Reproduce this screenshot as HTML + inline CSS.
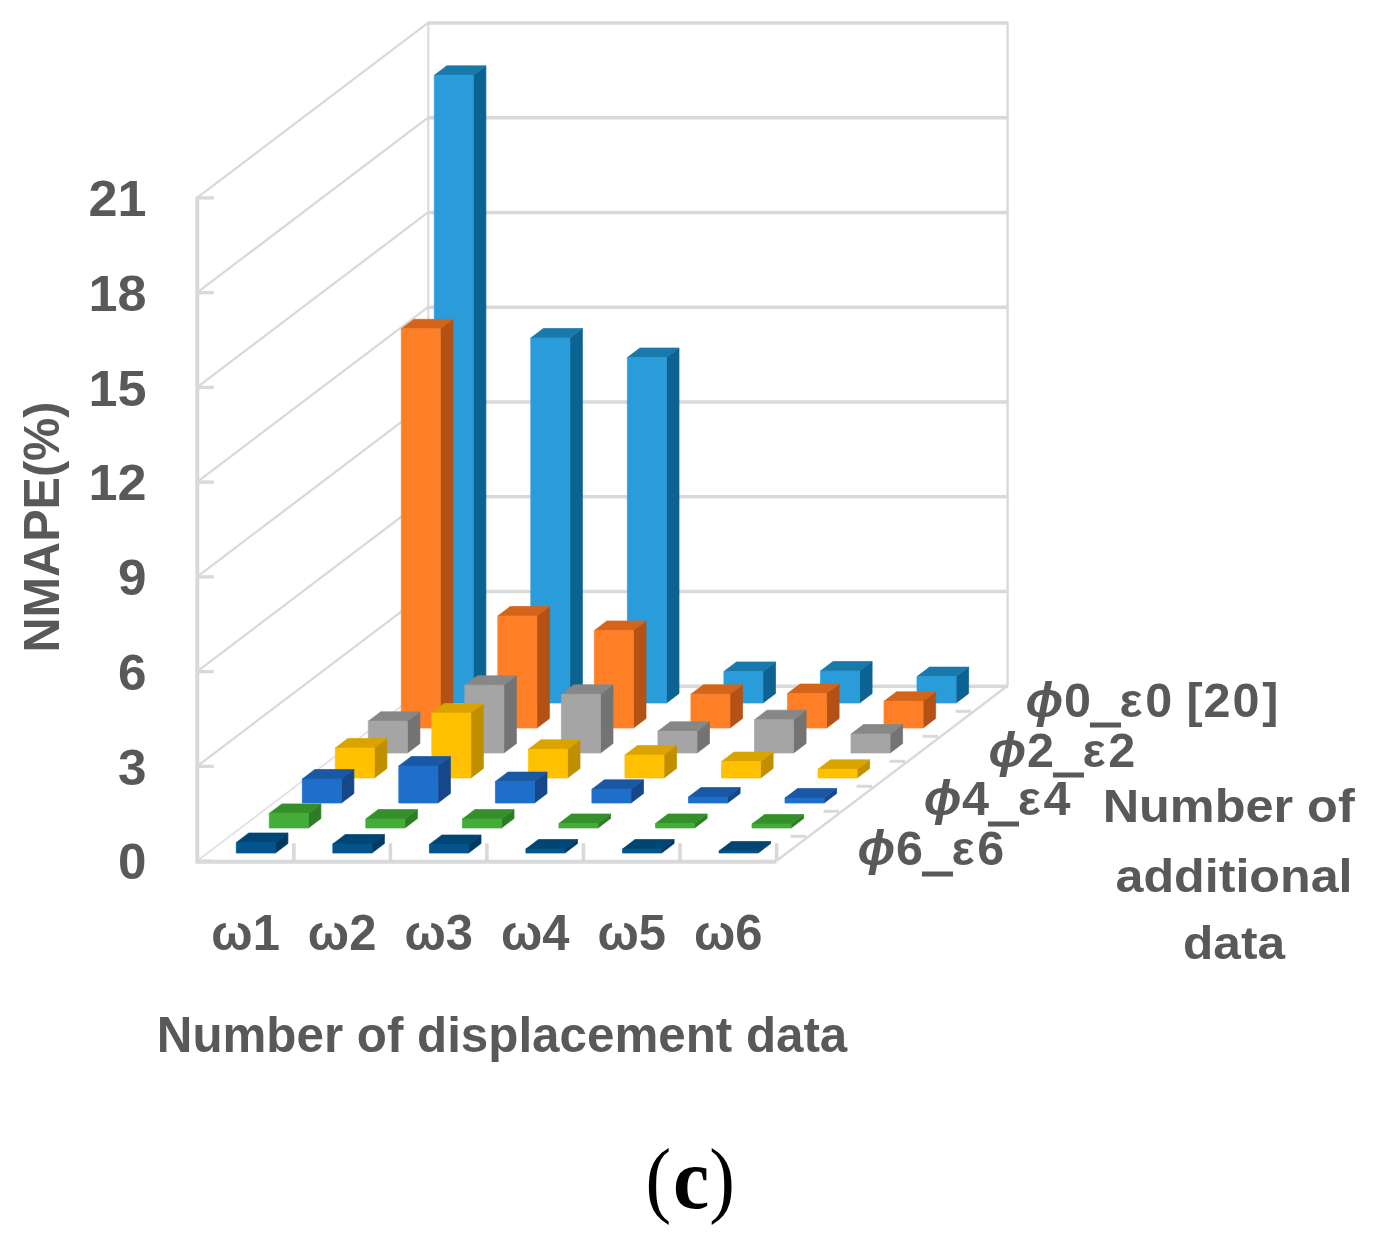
<!DOCTYPE html>
<html lang="en">
<head>
<meta charset="utf-8">
<title>NMAPE 3D bar chart (c)</title>
<style>
html,body{margin:0;padding:0;background:#ffffff;}
body{width:1378px;height:1237px;overflow:hidden;font-family:"Liberation Sans",sans-serif;}
svg{display:block;}
</style>
</head>
<body>
<svg width="1378" height="1237" viewBox="0 0 1378 1237">
<rect width="1378" height="1237" fill="#ffffff"/>
<g id="walls">
<line x1="197.3" y1="860.8" x2="428.3" y2="685.8" stroke="#e2e2e2" stroke-width="1.9" stroke-linecap="butt"/>
<line x1="427.8" y1="686.2" x2="1008.1" y2="686.2" stroke="#d9d9d9" stroke-width="3.4" stroke-linecap="butt"/>
<line x1="197.3" y1="861.1" x2="213.8" y2="861.1" stroke="#d9d9d9" stroke-width="3.4" stroke-linecap="butt"/>
<line x1="197.3" y1="766.1" x2="428.3" y2="591.1" stroke="#d9d9d9" stroke-width="2.3" stroke-linecap="butt"/>
<line x1="427.8" y1="591.5" x2="1008.1" y2="591.5" stroke="#d9d9d9" stroke-width="3.4" stroke-linecap="butt"/>
<line x1="197.3" y1="766.4" x2="213.8" y2="766.4" stroke="#d9d9d9" stroke-width="3.4" stroke-linecap="butt"/>
<line x1="197.3" y1="671.3" x2="428.3" y2="496.3" stroke="#d9d9d9" stroke-width="2.3" stroke-linecap="butt"/>
<line x1="427.8" y1="496.7" x2="1008.1" y2="496.7" stroke="#d9d9d9" stroke-width="3.4" stroke-linecap="butt"/>
<line x1="197.3" y1="671.6" x2="213.8" y2="671.6" stroke="#d9d9d9" stroke-width="3.4" stroke-linecap="butt"/>
<line x1="197.3" y1="576.6" x2="428.3" y2="401.6" stroke="#d9d9d9" stroke-width="2.3" stroke-linecap="butt"/>
<line x1="427.8" y1="402.0" x2="1008.1" y2="402.0" stroke="#d9d9d9" stroke-width="3.4" stroke-linecap="butt"/>
<line x1="197.3" y1="576.9" x2="213.8" y2="576.9" stroke="#d9d9d9" stroke-width="3.4" stroke-linecap="butt"/>
<line x1="197.3" y1="481.8" x2="428.3" y2="306.8" stroke="#d9d9d9" stroke-width="2.3" stroke-linecap="butt"/>
<line x1="427.8" y1="307.2" x2="1008.1" y2="307.2" stroke="#d9d9d9" stroke-width="3.4" stroke-linecap="butt"/>
<line x1="197.3" y1="482.1" x2="213.8" y2="482.1" stroke="#d9d9d9" stroke-width="3.4" stroke-linecap="butt"/>
<line x1="197.3" y1="387.1" x2="428.3" y2="212.1" stroke="#d9d9d9" stroke-width="2.3" stroke-linecap="butt"/>
<line x1="427.8" y1="212.5" x2="1008.1" y2="212.5" stroke="#d9d9d9" stroke-width="3.4" stroke-linecap="butt"/>
<line x1="197.3" y1="387.4" x2="213.8" y2="387.4" stroke="#d9d9d9" stroke-width="3.4" stroke-linecap="butt"/>
<line x1="197.3" y1="292.4" x2="428.3" y2="117.4" stroke="#d9d9d9" stroke-width="2.3" stroke-linecap="butt"/>
<line x1="427.8" y1="117.8" x2="1008.1" y2="117.8" stroke="#d9d9d9" stroke-width="3.4" stroke-linecap="butt"/>
<line x1="197.3" y1="292.7" x2="213.8" y2="292.7" stroke="#d9d9d9" stroke-width="3.4" stroke-linecap="butt"/>
<line x1="197.3" y1="197.6" x2="428.3" y2="22.6" stroke="#d9d9d9" stroke-width="2.3" stroke-linecap="butt"/>
<line x1="427.8" y1="23.0" x2="1008.1" y2="23.0" stroke="#d9d9d9" stroke-width="3.4" stroke-linecap="butt"/>
<line x1="197.3" y1="197.9" x2="213.8" y2="197.9" stroke="#d9d9d9" stroke-width="3.4" stroke-linecap="butt"/>
<line x1="197.3" y1="863.3" x2="197.3" y2="196.6" stroke="#d9d9d9" stroke-width="4.0" stroke-linecap="butt"/>
<line x1="428.3" y1="685.8" x2="428.3" y2="22.6" stroke="#d9d9d9" stroke-width="2.0" stroke-linecap="butt"/>
<line x1="1007.6" y1="685.8" x2="1007.6" y2="22.6" stroke="#d9d9d9" stroke-width="2.3" stroke-linecap="butt"/>
<line x1="196.3" y1="861.7" x2="776.6" y2="861.7" stroke="#d9d9d9" stroke-width="4.0" stroke-linecap="butt"/>
<line x1="776.6" y1="860.8" x2="1007.6" y2="685.8" stroke="#d9d9d9" stroke-width="2.4" stroke-linecap="butt"/>
<line x1="293.9" y1="860.8" x2="293.9" y2="843.3" stroke="#d9d9d9" stroke-width="3.6" stroke-linecap="butt"/>
<line x1="390.4" y1="860.8" x2="390.4" y2="843.3" stroke="#d9d9d9" stroke-width="3.6" stroke-linecap="butt"/>
<line x1="486.9" y1="860.8" x2="486.9" y2="843.3" stroke="#d9d9d9" stroke-width="3.6" stroke-linecap="butt"/>
<line x1="583.5" y1="860.8" x2="583.5" y2="843.3" stroke="#d9d9d9" stroke-width="3.6" stroke-linecap="butt"/>
<line x1="680.0" y1="860.8" x2="680.0" y2="843.3" stroke="#d9d9d9" stroke-width="3.6" stroke-linecap="butt"/>
<line x1="776.6" y1="860.8" x2="776.6" y2="843.3" stroke="#d9d9d9" stroke-width="3.6" stroke-linecap="butt"/>
<line x1="773.1" y1="861.3" x2="757.6" y2="861.3" stroke="#d9d9d9" stroke-width="3.0" stroke-linecap="butt"/>
<line x1="806.1" y1="836.3" x2="790.6" y2="836.3" stroke="#d9d9d9" stroke-width="3.0" stroke-linecap="butt"/>
<line x1="839.1" y1="811.3" x2="823.6" y2="811.3" stroke="#d9d9d9" stroke-width="3.0" stroke-linecap="butt"/>
<line x1="872.1" y1="786.3" x2="856.6" y2="786.3" stroke="#d9d9d9" stroke-width="3.0" stroke-linecap="butt"/>
<line x1="905.1" y1="761.3" x2="889.6" y2="761.3" stroke="#d9d9d9" stroke-width="3.0" stroke-linecap="butt"/>
<line x1="938.1" y1="736.3" x2="922.6" y2="736.3" stroke="#d9d9d9" stroke-width="3.0" stroke-linecap="butt"/>
<line x1="971.1" y1="711.3" x2="955.6" y2="711.3" stroke="#d9d9d9" stroke-width="3.0" stroke-linecap="butt"/>
</g>
<g id="bars">
<polygon points="473.4,703.0 485.9,693.5 485.9,65.8 473.4,75.3" fill="#0c6290" stroke="#0c6290" stroke-width="0.7" stroke-linejoin="round"/>
<polygon points="434.3,75.3 473.4,75.3 485.9,65.8 446.8,65.8" fill="#1a79ab" stroke="#1a79ab" stroke-width="0.7" stroke-linejoin="round"/>
<polygon points="434.3,703.0 473.4,703.0 473.4,75.3 434.3,75.3" fill="#299cd9" stroke="#299cd9" stroke-width="0.7" stroke-linejoin="round"/>
<polygon points="569.9,703.0 582.4,693.5 582.4,328.5 569.9,338.0" fill="#0c6290" stroke="#0c6290" stroke-width="0.7" stroke-linejoin="round"/>
<polygon points="530.8,338.0 569.9,338.0 582.4,328.5 543.3,328.5" fill="#1a79ab" stroke="#1a79ab" stroke-width="0.7" stroke-linejoin="round"/>
<polygon points="530.8,703.0 569.9,703.0 569.9,338.0 530.8,338.0" fill="#299cd9" stroke="#299cd9" stroke-width="0.7" stroke-linejoin="round"/>
<polygon points="666.5,703.0 679.0,693.5 679.0,348.0 666.5,357.5" fill="#0c6290" stroke="#0c6290" stroke-width="0.7" stroke-linejoin="round"/>
<polygon points="627.4,357.5 666.5,357.5 679.0,348.0 639.9,348.0" fill="#1a79ab" stroke="#1a79ab" stroke-width="0.7" stroke-linejoin="round"/>
<polygon points="627.4,703.0 666.5,703.0 666.5,357.5 627.4,357.5" fill="#299cd9" stroke="#299cd9" stroke-width="0.7" stroke-linejoin="round"/>
<polygon points="763.0,703.0 775.5,693.5 775.5,662.0 763.0,671.5" fill="#0c6290" stroke="#0c6290" stroke-width="0.7" stroke-linejoin="round"/>
<polygon points="723.9,671.5 763.0,671.5 775.5,662.0 736.4,662.0" fill="#1a79ab" stroke="#1a79ab" stroke-width="0.7" stroke-linejoin="round"/>
<polygon points="723.9,703.0 763.0,703.0 763.0,671.5 723.9,671.5" fill="#299cd9" stroke="#299cd9" stroke-width="0.7" stroke-linejoin="round"/>
<polygon points="859.6,703.0 872.1,693.5 872.1,661.5 859.6,671.0" fill="#0c6290" stroke="#0c6290" stroke-width="0.7" stroke-linejoin="round"/>
<polygon points="820.5,671.0 859.6,671.0 872.1,661.5 833.0,661.5" fill="#1a79ab" stroke="#1a79ab" stroke-width="0.7" stroke-linejoin="round"/>
<polygon points="820.5,703.0 859.6,703.0 859.6,671.0 820.5,671.0" fill="#299cd9" stroke="#299cd9" stroke-width="0.7" stroke-linejoin="round"/>
<polygon points="956.1,703.0 968.6,693.5 968.6,667.1 956.1,676.6" fill="#0c6290" stroke="#0c6290" stroke-width="0.7" stroke-linejoin="round"/>
<polygon points="917.0,676.6 956.1,676.6 968.6,667.1 929.5,667.1" fill="#1a79ab" stroke="#1a79ab" stroke-width="0.7" stroke-linejoin="round"/>
<polygon points="917.0,703.0 956.1,703.0 956.1,676.6 917.0,676.6" fill="#299cd9" stroke="#299cd9" stroke-width="0.7" stroke-linejoin="round"/>
<polygon points="440.4,728.0 452.9,718.5 452.9,319.3 440.4,328.8" fill="#b35214" stroke="#b35214" stroke-width="0.7" stroke-linejoin="round"/>
<polygon points="401.3,328.8 440.4,328.8 452.9,319.3 413.8,319.3" fill="#d4641a" stroke="#d4641a" stroke-width="0.7" stroke-linejoin="round"/>
<polygon points="401.3,728.0 440.4,728.0 440.4,328.8 401.3,328.8" fill="#ff7f27" stroke="#ff7f27" stroke-width="0.7" stroke-linejoin="round"/>
<polygon points="536.9,728.0 549.4,718.5 549.4,606.5 536.9,616.0" fill="#b35214" stroke="#b35214" stroke-width="0.7" stroke-linejoin="round"/>
<polygon points="497.8,616.0 536.9,616.0 549.4,606.5 510.3,606.5" fill="#d4641a" stroke="#d4641a" stroke-width="0.7" stroke-linejoin="round"/>
<polygon points="497.8,728.0 536.9,728.0 536.9,616.0 497.8,616.0" fill="#ff7f27" stroke="#ff7f27" stroke-width="0.7" stroke-linejoin="round"/>
<polygon points="633.5,728.0 646.0,718.5 646.0,621.0 633.5,630.5" fill="#b35214" stroke="#b35214" stroke-width="0.7" stroke-linejoin="round"/>
<polygon points="594.4,630.5 633.5,630.5 646.0,621.0 606.9,621.0" fill="#d4641a" stroke="#d4641a" stroke-width="0.7" stroke-linejoin="round"/>
<polygon points="594.4,728.0 633.5,728.0 633.5,630.5 594.4,630.5" fill="#ff7f27" stroke="#ff7f27" stroke-width="0.7" stroke-linejoin="round"/>
<polygon points="730.0,728.0 742.5,718.5 742.5,684.8 730.0,694.2" fill="#b35214" stroke="#b35214" stroke-width="0.7" stroke-linejoin="round"/>
<polygon points="690.9,694.2 730.0,694.2 742.5,684.8 703.4,684.8" fill="#d4641a" stroke="#d4641a" stroke-width="0.7" stroke-linejoin="round"/>
<polygon points="690.9,728.0 730.0,728.0 730.0,694.2 690.9,694.2" fill="#ff7f27" stroke="#ff7f27" stroke-width="0.7" stroke-linejoin="round"/>
<polygon points="826.6,728.0 839.1,718.5 839.1,684.0 826.6,693.5" fill="#b35214" stroke="#b35214" stroke-width="0.7" stroke-linejoin="round"/>
<polygon points="787.5,693.5 826.6,693.5 839.1,684.0 800.0,684.0" fill="#d4641a" stroke="#d4641a" stroke-width="0.7" stroke-linejoin="round"/>
<polygon points="787.5,728.0 826.6,728.0 826.6,693.5 787.5,693.5" fill="#ff7f27" stroke="#ff7f27" stroke-width="0.7" stroke-linejoin="round"/>
<polygon points="923.1,728.0 935.6,718.5 935.6,691.8 923.1,701.3" fill="#b35214" stroke="#b35214" stroke-width="0.7" stroke-linejoin="round"/>
<polygon points="884.0,701.3 923.1,701.3 935.6,691.8 896.5,691.8" fill="#d4641a" stroke="#d4641a" stroke-width="0.7" stroke-linejoin="round"/>
<polygon points="884.0,728.0 923.1,728.0 923.1,701.3 884.0,701.3" fill="#ff7f27" stroke="#ff7f27" stroke-width="0.7" stroke-linejoin="round"/>
<polygon points="407.4,753.0 419.9,743.5 419.9,711.8 407.4,721.2" fill="#737373" stroke="#737373" stroke-width="0.7" stroke-linejoin="round"/>
<polygon points="368.3,721.2 407.4,721.2 419.9,711.8 380.8,711.8" fill="#878787" stroke="#878787" stroke-width="0.7" stroke-linejoin="round"/>
<polygon points="368.3,753.0 407.4,753.0 407.4,721.2 368.3,721.2" fill="#a5a5a5" stroke="#a5a5a5" stroke-width="0.7" stroke-linejoin="round"/>
<polygon points="503.9,753.0 516.4,743.5 516.4,675.8 503.9,685.2" fill="#737373" stroke="#737373" stroke-width="0.7" stroke-linejoin="round"/>
<polygon points="464.8,685.2 503.9,685.2 516.4,675.8 477.3,675.8" fill="#878787" stroke="#878787" stroke-width="0.7" stroke-linejoin="round"/>
<polygon points="464.8,753.0 503.9,753.0 503.9,685.2 464.8,685.2" fill="#a5a5a5" stroke="#a5a5a5" stroke-width="0.7" stroke-linejoin="round"/>
<polygon points="600.5,753.0 613.0,743.5 613.0,684.8 600.5,694.3" fill="#737373" stroke="#737373" stroke-width="0.7" stroke-linejoin="round"/>
<polygon points="561.4,694.3 600.5,694.3 613.0,684.8 573.9,684.8" fill="#878787" stroke="#878787" stroke-width="0.7" stroke-linejoin="round"/>
<polygon points="561.4,753.0 600.5,753.0 600.5,694.3 561.4,694.3" fill="#a5a5a5" stroke="#a5a5a5" stroke-width="0.7" stroke-linejoin="round"/>
<polygon points="697.0,753.0 709.5,743.5 709.5,721.8 697.0,731.2" fill="#737373" stroke="#737373" stroke-width="0.7" stroke-linejoin="round"/>
<polygon points="657.9,731.2 697.0,731.2 709.5,721.8 670.4,721.8" fill="#878787" stroke="#878787" stroke-width="0.7" stroke-linejoin="round"/>
<polygon points="657.9,753.0 697.0,753.0 697.0,731.2 657.9,731.2" fill="#a5a5a5" stroke="#a5a5a5" stroke-width="0.7" stroke-linejoin="round"/>
<polygon points="793.6,753.0 806.1,743.5 806.1,710.2 793.6,719.8" fill="#737373" stroke="#737373" stroke-width="0.7" stroke-linejoin="round"/>
<polygon points="754.5,719.8 793.6,719.8 806.1,710.2 767.0,710.2" fill="#878787" stroke="#878787" stroke-width="0.7" stroke-linejoin="round"/>
<polygon points="754.5,753.0 793.6,753.0 793.6,719.8 754.5,719.8" fill="#a5a5a5" stroke="#a5a5a5" stroke-width="0.7" stroke-linejoin="round"/>
<polygon points="890.1,753.0 902.6,743.5 902.6,724.5 890.1,734.0" fill="#737373" stroke="#737373" stroke-width="0.7" stroke-linejoin="round"/>
<polygon points="851.0,734.0 890.1,734.0 902.6,724.5 863.5,724.5" fill="#878787" stroke="#878787" stroke-width="0.7" stroke-linejoin="round"/>
<polygon points="851.0,753.0 890.1,753.0 890.1,734.0 851.0,734.0" fill="#a5a5a5" stroke="#a5a5a5" stroke-width="0.7" stroke-linejoin="round"/>
<polygon points="374.4,778.0 386.9,768.5 386.9,738.5 374.4,748.0" fill="#c08f00" stroke="#c08f00" stroke-width="0.7" stroke-linejoin="round"/>
<polygon points="335.3,748.0 374.4,748.0 386.9,738.5 347.8,738.5" fill="#d9a300" stroke="#d9a300" stroke-width="0.7" stroke-linejoin="round"/>
<polygon points="335.3,778.0 374.4,778.0 374.4,748.0 335.3,748.0" fill="#ffc000" stroke="#ffc000" stroke-width="0.7" stroke-linejoin="round"/>
<polygon points="470.9,778.0 483.4,768.5 483.4,703.5 470.9,713.0" fill="#c08f00" stroke="#c08f00" stroke-width="0.7" stroke-linejoin="round"/>
<polygon points="431.8,713.0 470.9,713.0 483.4,703.5 444.3,703.5" fill="#d9a300" stroke="#d9a300" stroke-width="0.7" stroke-linejoin="round"/>
<polygon points="431.8,778.0 470.9,778.0 470.9,713.0 431.8,713.0" fill="#ffc000" stroke="#ffc000" stroke-width="0.7" stroke-linejoin="round"/>
<polygon points="567.5,778.0 580.0,768.5 580.0,739.8 567.5,749.3" fill="#c08f00" stroke="#c08f00" stroke-width="0.7" stroke-linejoin="round"/>
<polygon points="528.4,749.3 567.5,749.3 580.0,739.8 540.9,739.8" fill="#d9a300" stroke="#d9a300" stroke-width="0.7" stroke-linejoin="round"/>
<polygon points="528.4,778.0 567.5,778.0 567.5,749.3 528.4,749.3" fill="#ffc000" stroke="#ffc000" stroke-width="0.7" stroke-linejoin="round"/>
<polygon points="664.0,778.0 676.5,768.5 676.5,745.6 664.0,755.1" fill="#c08f00" stroke="#c08f00" stroke-width="0.7" stroke-linejoin="round"/>
<polygon points="624.9,755.1 664.0,755.1 676.5,745.6 637.4,745.6" fill="#d9a300" stroke="#d9a300" stroke-width="0.7" stroke-linejoin="round"/>
<polygon points="624.9,778.0 664.0,778.0 664.0,755.1 624.9,755.1" fill="#ffc000" stroke="#ffc000" stroke-width="0.7" stroke-linejoin="round"/>
<polygon points="760.6,778.0 773.1,768.5 773.1,752.1 760.6,761.6" fill="#c08f00" stroke="#c08f00" stroke-width="0.7" stroke-linejoin="round"/>
<polygon points="721.5,761.6 760.6,761.6 773.1,752.1 734.0,752.1" fill="#d9a300" stroke="#d9a300" stroke-width="0.7" stroke-linejoin="round"/>
<polygon points="721.5,778.0 760.6,778.0 760.6,761.6 721.5,761.6" fill="#ffc000" stroke="#ffc000" stroke-width="0.7" stroke-linejoin="round"/>
<polygon points="857.1,778.0 869.6,768.5 869.6,759.8 857.1,769.3" fill="#c08f00" stroke="#c08f00" stroke-width="0.7" stroke-linejoin="round"/>
<polygon points="818.0,769.3 857.1,769.3 869.6,759.8 830.5,759.8" fill="#d9a300" stroke="#d9a300" stroke-width="0.7" stroke-linejoin="round"/>
<polygon points="818.0,778.0 857.1,778.0 857.1,769.3 818.0,769.3" fill="#ffc000" stroke="#ffc000" stroke-width="0.7" stroke-linejoin="round"/>
<polygon points="341.4,803.0 353.9,793.5 353.9,769.5 341.4,779.0" fill="#154789" stroke="#154789" stroke-width="0.7" stroke-linejoin="round"/>
<polygon points="302.3,779.0 341.4,779.0 353.9,769.5 314.8,769.5" fill="#1a58a3" stroke="#1a58a3" stroke-width="0.7" stroke-linejoin="round"/>
<polygon points="302.3,803.0 341.4,803.0 341.4,779.0 302.3,779.0" fill="#1e6fc9" stroke="#1e6fc9" stroke-width="0.7" stroke-linejoin="round"/>
<polygon points="437.9,803.0 450.4,793.5 450.4,756.5 437.9,766.0" fill="#154789" stroke="#154789" stroke-width="0.7" stroke-linejoin="round"/>
<polygon points="398.8,766.0 437.9,766.0 450.4,756.5 411.3,756.5" fill="#1a58a3" stroke="#1a58a3" stroke-width="0.7" stroke-linejoin="round"/>
<polygon points="398.8,803.0 437.9,803.0 437.9,766.0 398.8,766.0" fill="#1e6fc9" stroke="#1e6fc9" stroke-width="0.7" stroke-linejoin="round"/>
<polygon points="534.5,803.0 547.0,793.5 547.0,772.1 534.5,781.6" fill="#154789" stroke="#154789" stroke-width="0.7" stroke-linejoin="round"/>
<polygon points="495.4,781.6 534.5,781.6 547.0,772.1 507.9,772.1" fill="#1a58a3" stroke="#1a58a3" stroke-width="0.7" stroke-linejoin="round"/>
<polygon points="495.4,803.0 534.5,803.0 534.5,781.6 495.4,781.6" fill="#1e6fc9" stroke="#1e6fc9" stroke-width="0.7" stroke-linejoin="round"/>
<polygon points="631.0,803.0 643.5,793.5 643.5,779.8 631.0,789.3" fill="#154789" stroke="#154789" stroke-width="0.7" stroke-linejoin="round"/>
<polygon points="591.9,789.3 631.0,789.3 643.5,779.8 604.4,779.8" fill="#1a58a3" stroke="#1a58a3" stroke-width="0.7" stroke-linejoin="round"/>
<polygon points="591.9,803.0 631.0,803.0 631.0,789.3 591.9,789.3" fill="#1e6fc9" stroke="#1e6fc9" stroke-width="0.7" stroke-linejoin="round"/>
<polygon points="727.6,803.0 740.1,793.5 740.1,787.5 727.6,797.0" fill="#154789" stroke="#154789" stroke-width="0.7" stroke-linejoin="round"/>
<polygon points="688.5,797.0 727.6,797.0 740.1,787.5 701.0,787.5" fill="#1a58a3" stroke="#1a58a3" stroke-width="0.7" stroke-linejoin="round"/>
<polygon points="688.5,803.0 727.6,803.0 727.6,797.0 688.5,797.0" fill="#1e6fc9" stroke="#1e6fc9" stroke-width="0.7" stroke-linejoin="round"/>
<polygon points="824.1,803.0 836.6,793.5 836.6,788.5 824.1,798.0" fill="#154789" stroke="#154789" stroke-width="0.7" stroke-linejoin="round"/>
<polygon points="785.0,798.0 824.1,798.0 836.6,788.5 797.5,788.5" fill="#1a58a3" stroke="#1a58a3" stroke-width="0.7" stroke-linejoin="round"/>
<polygon points="785.0,803.0 824.1,803.0 824.1,798.0 785.0,798.0" fill="#1e6fc9" stroke="#1e6fc9" stroke-width="0.7" stroke-linejoin="round"/>
<polygon points="308.4,828.0 320.9,818.5 320.9,803.9 308.4,813.4" fill="#2d7d24" stroke="#2d7d24" stroke-width="0.7" stroke-linejoin="round"/>
<polygon points="269.3,813.4 308.4,813.4 320.9,803.9 281.8,803.9" fill="#35902b" stroke="#35902b" stroke-width="0.7" stroke-linejoin="round"/>
<polygon points="269.3,828.0 308.4,828.0 308.4,813.4 269.3,813.4" fill="#44ac38" stroke="#44ac38" stroke-width="0.7" stroke-linejoin="round"/>
<polygon points="404.9,828.0 417.4,818.5 417.4,809.5 404.9,819.0" fill="#2d7d24" stroke="#2d7d24" stroke-width="0.7" stroke-linejoin="round"/>
<polygon points="365.8,819.0 404.9,819.0 417.4,809.5 378.3,809.5" fill="#35902b" stroke="#35902b" stroke-width="0.7" stroke-linejoin="round"/>
<polygon points="365.8,828.0 404.9,828.0 404.9,819.0 365.8,819.0" fill="#44ac38" stroke="#44ac38" stroke-width="0.7" stroke-linejoin="round"/>
<polygon points="501.5,828.0 514.0,818.5 514.0,809.5 501.5,819.0" fill="#2d7d24" stroke="#2d7d24" stroke-width="0.7" stroke-linejoin="round"/>
<polygon points="462.4,819.0 501.5,819.0 514.0,809.5 474.9,809.5" fill="#35902b" stroke="#35902b" stroke-width="0.7" stroke-linejoin="round"/>
<polygon points="462.4,828.0 501.5,828.0 501.5,819.0 462.4,819.0" fill="#44ac38" stroke="#44ac38" stroke-width="0.7" stroke-linejoin="round"/>
<polygon points="598.0,828.0 610.5,818.5 610.5,814.0 598.0,823.5" fill="#2d7d24" stroke="#2d7d24" stroke-width="0.7" stroke-linejoin="round"/>
<polygon points="558.9,823.5 598.0,823.5 610.5,814.0 571.4,814.0" fill="#35902b" stroke="#35902b" stroke-width="0.7" stroke-linejoin="round"/>
<polygon points="558.9,828.0 598.0,828.0 598.0,823.5 558.9,823.5" fill="#44ac38" stroke="#44ac38" stroke-width="0.7" stroke-linejoin="round"/>
<polygon points="694.6,828.0 707.1,818.5 707.1,814.0 694.6,823.5" fill="#2d7d24" stroke="#2d7d24" stroke-width="0.7" stroke-linejoin="round"/>
<polygon points="655.5,823.5 694.6,823.5 707.1,814.0 668.0,814.0" fill="#35902b" stroke="#35902b" stroke-width="0.7" stroke-linejoin="round"/>
<polygon points="655.5,828.0 694.6,828.0 694.6,823.5 655.5,823.5" fill="#44ac38" stroke="#44ac38" stroke-width="0.7" stroke-linejoin="round"/>
<polygon points="791.1,828.0 803.6,818.5 803.6,814.5 791.1,824.0" fill="#2d7d24" stroke="#2d7d24" stroke-width="0.7" stroke-linejoin="round"/>
<polygon points="752.0,824.0 791.1,824.0 803.6,814.5 764.5,814.5" fill="#35902b" stroke="#35902b" stroke-width="0.7" stroke-linejoin="round"/>
<polygon points="752.0,828.0 791.1,828.0 791.1,824.0 752.0,824.0" fill="#44ac38" stroke="#44ac38" stroke-width="0.7" stroke-linejoin="round"/>
<polygon points="275.4,853.0 287.9,843.5 287.9,833.0 275.4,842.5" fill="#003a63" stroke="#003a63" stroke-width="0.7" stroke-linejoin="round"/>
<polygon points="236.3,842.5 275.4,842.5 287.9,833.0 248.8,833.0" fill="#004675" stroke="#004675" stroke-width="0.7" stroke-linejoin="round"/>
<polygon points="236.3,853.0 275.4,853.0 275.4,842.5 236.3,842.5" fill="#00558f" stroke="#00558f" stroke-width="0.7" stroke-linejoin="round"/>
<polygon points="371.9,853.0 384.4,843.5 384.4,834.5 371.9,844.0" fill="#003a63" stroke="#003a63" stroke-width="0.7" stroke-linejoin="round"/>
<polygon points="332.8,844.0 371.9,844.0 384.4,834.5 345.3,834.5" fill="#004675" stroke="#004675" stroke-width="0.7" stroke-linejoin="round"/>
<polygon points="332.8,853.0 371.9,853.0 371.9,844.0 332.8,844.0" fill="#00558f" stroke="#00558f" stroke-width="0.7" stroke-linejoin="round"/>
<polygon points="468.5,853.0 481.0,843.5 481.0,835.0 468.5,844.5" fill="#003a63" stroke="#003a63" stroke-width="0.7" stroke-linejoin="round"/>
<polygon points="429.4,844.5 468.5,844.5 481.0,835.0 441.9,835.0" fill="#004675" stroke="#004675" stroke-width="0.7" stroke-linejoin="round"/>
<polygon points="429.4,853.0 468.5,853.0 468.5,844.5 429.4,844.5" fill="#00558f" stroke="#00558f" stroke-width="0.7" stroke-linejoin="round"/>
<polygon points="565.0,853.0 577.5,843.5 577.5,839.5 565.0,849.0" fill="#003a63" stroke="#003a63" stroke-width="0.7" stroke-linejoin="round"/>
<polygon points="525.9,849.0 565.0,849.0 577.5,839.5 538.4,839.5" fill="#004675" stroke="#004675" stroke-width="0.7" stroke-linejoin="round"/>
<polygon points="525.9,853.0 565.0,853.0 565.0,849.0 525.9,849.0" fill="#00558f" stroke="#00558f" stroke-width="0.7" stroke-linejoin="round"/>
<polygon points="661.6,853.0 674.1,843.5 674.1,839.5 661.6,849.0" fill="#003a63" stroke="#003a63" stroke-width="0.7" stroke-linejoin="round"/>
<polygon points="622.5,849.0 661.6,849.0 674.1,839.5 635.0,839.5" fill="#004675" stroke="#004675" stroke-width="0.7" stroke-linejoin="round"/>
<polygon points="622.5,853.0 661.6,853.0 661.6,849.0 622.5,849.0" fill="#00558f" stroke="#00558f" stroke-width="0.7" stroke-linejoin="round"/>
<polygon points="758.1,853.0 770.6,843.5 770.6,841.5 758.1,851.0" fill="#003a63" stroke="#003a63" stroke-width="0.7" stroke-linejoin="round"/>
<polygon points="719.0,851.0 758.1,851.0 770.6,841.5 731.5,841.5" fill="#004675" stroke="#004675" stroke-width="0.7" stroke-linejoin="round"/>
<polygon points="719.0,853.0 758.1,853.0 758.1,851.0 719.0,851.0" fill="#00558f" stroke="#00558f" stroke-width="0.7" stroke-linejoin="round"/>
</g>
<g id="labels" fill="#595959" font-family="Liberation Sans, sans-serif" font-weight="700">
<text x="146.5" y="879.4" font-size="50" text-anchor="end" textLength="28.5" lengthAdjust="spacingAndGlyphs">0</text>
<text x="146.5" y="784.7" font-size="50" text-anchor="end" textLength="28.5" lengthAdjust="spacingAndGlyphs">3</text>
<text x="146.5" y="689.9" font-size="50" text-anchor="end" textLength="28.5" lengthAdjust="spacingAndGlyphs">6</text>
<text x="146.5" y="595.2" font-size="50" text-anchor="end" textLength="28.5" lengthAdjust="spacingAndGlyphs">9</text>
<text x="146.5" y="500.4" font-size="50" text-anchor="end" textLength="58" lengthAdjust="spacingAndGlyphs">12</text>
<text x="146.5" y="405.7" font-size="50" text-anchor="end" textLength="58" lengthAdjust="spacingAndGlyphs">15</text>
<text x="146.5" y="311.0" font-size="50" text-anchor="end" textLength="58" lengthAdjust="spacingAndGlyphs">18</text>
<text x="146.5" y="216.2" font-size="50" text-anchor="end" textLength="58" lengthAdjust="spacingAndGlyphs">21</text>
<text x="245.6" y="949.6" font-size="50" text-anchor="middle" textLength="68.5" lengthAdjust="spacingAndGlyphs">ω1</text>
<text x="342.1" y="949.6" font-size="50" text-anchor="middle" textLength="68.5" lengthAdjust="spacingAndGlyphs">ω2</text>
<text x="438.7" y="949.6" font-size="50" text-anchor="middle" textLength="68.5" lengthAdjust="spacingAndGlyphs">ω3</text>
<text x="535.2" y="949.6" font-size="50" text-anchor="middle" textLength="68.5" lengthAdjust="spacingAndGlyphs">ω4</text>
<text x="631.8" y="949.6" font-size="50" text-anchor="middle" textLength="68.5" lengthAdjust="spacingAndGlyphs">ω5</text>
<text x="728.3" y="949.6" font-size="50" text-anchor="middle" textLength="68.5" lengthAdjust="spacingAndGlyphs">ω6</text>
<text x="156.8" y="1051.8" font-size="50.5" textLength="690.5" lengthAdjust="spacingAndGlyphs">Number of displacement data</text>
<text transform="translate(58.9,652.5) rotate(-90)" font-size="49.5" textLength="251" lengthAdjust="spacingAndGlyphs">NMAPE(%)</text>
<text y="716.5" font-size="48.5"><tspan x="1025.6" font-style="italic" font-size="50">ϕ</tspan><tspan x="1063.9">0</tspan><tspan x="1091.9" dy="3.2" stroke="#595959" stroke-width="3.2">_</tspan><tspan x="1119.6 1145.2" dy="-3.2">ε0</tspan><tspan x="1172.6 1186.5 1203.4 1232.4 1262.3"> [20]</tspan></text>
<text y="766.5" font-size="48.5"><tspan x="988.6" font-style="italic" font-size="50">ϕ</tspan><tspan x="1026.9">2</tspan><tspan x="1054.9" dy="3.2" stroke="#595959" stroke-width="3.2">_</tspan><tspan x="1082.6 1108.2" dy="-3.2">ε2</tspan></text>
<text y="815.3" font-size="48.5"><tspan x="923.8" font-style="italic" font-size="50">ϕ</tspan><tspan x="962.1">4</tspan><tspan x="990.1" dy="3.2" stroke="#595959" stroke-width="3.2">_</tspan><tspan x="1017.8 1043.4" dy="-3.2">ε4</tspan></text>
<text y="865.4" font-size="48.5"><tspan x="857.6" font-style="italic" font-size="50">ϕ</tspan><tspan x="895.9">6</tspan><tspan x="923.9" dy="3.2" stroke="#595959" stroke-width="3.2">_</tspan><tspan x="951.6 977.2" dy="-3.2">ε6</tspan></text>
<text x="1228.7" y="821.6" font-size="46" text-anchor="middle" textLength="252" lengthAdjust="spacingAndGlyphs">Number of</text>
<text x="1234" y="891.5" font-size="46" text-anchor="middle" textLength="237" lengthAdjust="spacingAndGlyphs">additional</text>
<text x="1234" y="959" font-size="46" text-anchor="middle" textLength="102" lengthAdjust="spacingAndGlyphs">data</text>
</g>
<g id="caption" fill="#000000" font-family="Liberation Serif, serif">
<text transform="translate(645.4,1207.2) scale(0.9,1)" font-size="85.5">(</text>
<text transform="translate(673,1208) scale(0.95,1)" font-size="86" font-weight="700">c</text>
<text transform="translate(709.2,1207.2) scale(0.9,1)" font-size="85.5">)</text>
</g>
</svg>
</body>
</html>
